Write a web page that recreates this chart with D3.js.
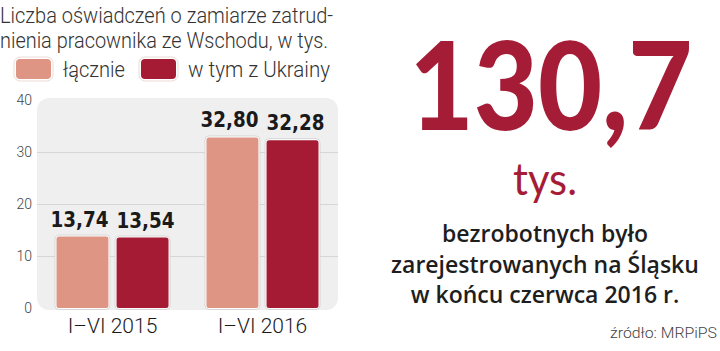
<!DOCTYPE html>
<html>
<head>
<meta charset="utf-8">
<script src="https://cdn.jsdelivr.net/npm/d3@7"></script>
<style>
  body { margin: 0; background: #fff; }
  svg { display: block; }
</style>
</head>
<body>
<svg id="chart" width="720" height="351"></svg>
<script>
/* values */
const periods = ['I–VI 2015', 'I–VI 2016'];
const seriesNames = ['łącznie', 'w tym z Ukrainy'];
const totalValues = [13.74, 32.80];
const ukraineValues = [13.54, 32.28];
const yTicks = [0, 10, 20, 30, 40];
const titleLines = ['Liczba oświadczeń o zamiarze zatrud-', 'nienia pracownika ze Wschodu, w tys.'];
const bigNumber = '130,7';
const bigUnit = 'tys.';
const noteLines = ['bezrobotnych było', 'zarejestrowanych na Śląsku', 'w końcu czerwca 2016 r.'];
const sourceText = 'źródło: MRPiPS';

const COLORS = {'łącznie': '#de9583', 'w tym z Ukrainy': '#a51b34'};
const RED = '#a51c36';
const fmt = v => d3.format('.2f')(v).replace('.', ',');

const svg = d3.select('#chart');

/* plot frame */
const plot = {left: 37, right: 338, top: 100, bottom: 308};

const y = d3.scaleLinear().domain([0, 40]).range([plot.bottom, plot.top]);
const x0 = d3.scaleBand().domain(periods).range([plot.left, plot.right])
    .paddingInner(0.253).paddingOuter(0.13);
const x1 = d3.scaleBand().domain(seriesNames).range([0, x0.bandwidth()]).paddingInner(0.135);

const rows = periods.map((p, i) => ({period: p, values: [totalValues[i], ukraineValues[i]]}));

svg.append('rect')
    .attr('x', plot.left).attr('y', plot.top - 2)
    .attr('width', plot.right - plot.left).attr('height', plot.bottom - plot.top + 4)
    .attr('rx', 12)
    .attr('fill', '#efefef');

// gridlines
svg.append('g').selectAll('line')
    .data(yTicks.slice(1, -1))
    .join('line')
    .attr('x1', plot.left).attr('x2', plot.right)
    .attr('y1', d => y(d) + 0.5).attr('y2', d => y(d) + 0.5)
    .attr('stroke', '#d6d6d6');

// y axis labels
const yAxis = d3.axisLeft(y).tickValues(yTicks).tickSize(0).tickPadding(0);
const yg = svg.append('g').attr('transform', 'translate(32,0)').call(yAxis);
yg.select('.domain').remove();
yg.selectAll('text')
    .attr('font-family', 'Roboto').attr('font-weight', 300)
    .attr('font-size', 14).attr('fill', '#444');

// bars
const groups = svg.append('g').selectAll('g')
    .data(rows)
    .join('g')
    .attr('transform', d => `translate(${x0(d.period)},0)`);

const bars = groups.selectAll('g')
    .data(d => d.values.map((v, i) => ({name: seriesNames[i], value: v, idx: i})))
    .join('g');

bars.append('rect')
    .attr('x', d => x1(d.name) - 1.5)
    .attr('y', d => y(d.value) - 1.5)
    .attr('width', x1.bandwidth() + 3)
    .attr('height', d => y(0) - y(d.value) + 3)
    .attr('rx', 4)
    .attr('fill', '#fff')
    .attr('stroke', '#cfcfcf').attr('stroke-width', 0.8);

bars.append('rect')
    .attr('x', d => x1(d.name))
    .attr('y', d => y(d.value))
    .attr('width', x1.bandwidth())
    .attr('height', d => y(0) - y(d.value))
    .attr('rx', 2.5)
    .attr('fill', d => COLORS[d.name]);

// labels are pushed outwards: first bar's label ends at its right edge, second starts at its left edge
bars.append('text')
    .attr('x', d => d.idx === 0 ? x1(d.name) + x1.bandwidth() : x1(d.name))
    .attr('y', d => y(d.value) - 10)
    .attr('text-anchor', d => d.idx === 0 ? 'end' : 'start')
    .attr('font-family', 'DejaVu Sans Condensed')
    .attr('font-weight', 'bold')
    .attr('font-size', 22)
    .attr('fill', '#1a1a1a')
    .attr('textLength', 58)
    .attr('lengthAdjust', 'spacingAndGlyphs')
    .text(d => fmt(d.value));

// x axis labels
const xAxis = d3.axisBottom(x0).tickSize(0).tickPadding(0);
const xg = svg.append('g').attr('transform', 'translate(0,318)').call(xAxis);
xg.select('.domain').remove();
xg.selectAll('text')
    .attr('dy', null).attr('y', 15)
    .attr('font-family', 'Roboto').attr('font-weight', 300)
    .attr('font-size', 21).attr('fill', '#1a1a1a');

// title
svg.append('g').selectAll('text')
    .data(titleLines)
    .join('text')
    .attr('x', 0)
    .attr('y', (d, i) => 23 + i * 25)
    .attr('font-family', 'Roboto').attr('font-weight', 300)
    .attr('font-size', 22)
    .attr('fill', '#333')
    .attr('textLength', (d, i) => [333, 328][i])
    .attr('lengthAdjust', 'spacingAndGlyphs')
    .text(d => d);

// legend
const legend = svg.append('g').selectAll('g')
    .data(seriesNames)
    .join('g')
    .attr('transform', (d, i) => `translate(${[15, 140][i]},58)`);
legend.append('rect')
    .attr('x', -1).attr('y', -1).attr('width', 39).attr('height', 24).attr('rx', 6)
    .attr('fill', '#fff').attr('stroke', '#e3d2cc').attr('stroke-width', 0.8);
legend.append('rect')
    .attr('x', 1).attr('y', 1).attr('width', 35).attr('height', 20).attr('rx', 4)
    .attr('fill', d => COLORS[d]);
legend.append('text')
    .attr('x', 48).attr('y', 19)
    .attr('font-family', 'Roboto').attr('font-weight', 300)
    .attr('font-size', 22)
    .attr('fill', '#333')
    .attr('textLength', (d, i) => [62, 142][i])
    .attr('lengthAdjust', 'spacingAndGlyphs')
    .text(d => d);

// big number panel (horizontally condensed with a transform)
const big = svg.append('text')
    .attr('text-anchor', 'middle')
    .attr('font-family', 'Lato').attr('font-weight', 900)
    .attr('font-size', 123)
    .attr('fill', RED)
    .text(bigNumber);
const bigW = big.node().getComputedTextLength();
big.attr('transform', `translate(551,130) scale(${283 / bigW},1)`);

svg.append('text')
    .attr('x', 545).attr('y', 195)
    .attr('text-anchor', 'middle')
    .attr('font-family', 'Lato')
    .attr('font-size', 44)
    .attr('fill', RED)
    .attr('textLength', 64)
    .attr('lengthAdjust', 'spacingAndGlyphs')
    .text(bigUnit);

svg.append('g').selectAll('text')
    .data(noteLines)
    .join('text')
    .attr('x', 545)
    .attr('y', (d, i) => 242 + i * 30.5)
    .attr('text-anchor', 'middle')
    .attr('font-family', 'Open Sans').attr('font-weight', 600)
    .attr('font-size', 23)
    .attr('fill', '#1e1e1e')
    .text(d => d);

svg.append('text')
    .attr('x', 717).attr('y', 338)
    .attr('text-anchor', 'end')
    .attr('font-family', 'Roboto').attr('font-weight', 300)
    .attr('font-size', 15)
    .attr('fill', '#444')
    .attr('textLength', 107)
    .attr('lengthAdjust', 'spacingAndGlyphs')
    .text(sourceText);
</script>
</body>
</html>
